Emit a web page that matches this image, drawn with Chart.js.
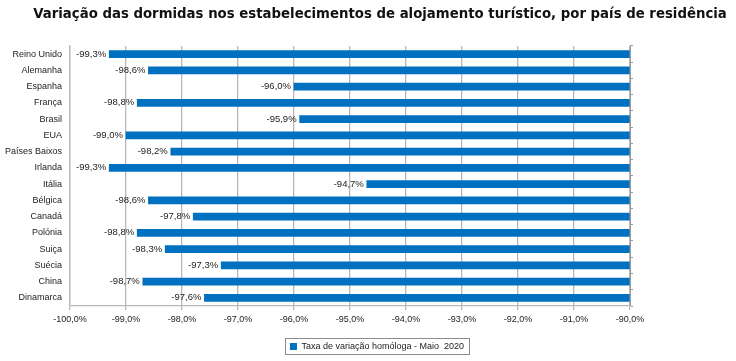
<!DOCTYPE html>
<html><head><meta charset="utf-8">
<script src="https://cdn.jsdelivr.net/npm/chart.js@4.4.0/dist/chart.umd.min.js"></script>
<style>html,body{margin:0;padding:0;background:#fff}</style>
</head><body>
<canvas id="c" width="736" height="361" style="width:736px;height:361px;display:block"></canvas>
<script>
const titleText = "Variação das dormidas nos estabelecimentos de alojamento turístico, por país de residência";
const seriesName = "Taxa de variação homóloga - Maio  2020";
const categories = ["Reino Unido","Alemanha","Espanha","França","Brasil","EUA","Países Baixos","Irlanda","Itália","Bélgica","Canadá","Polónia","Suiça","Suécia","China","Dinamarca"];
const values = [-99.3,-98.6,-96.0,-98.8,-95.9,-99.0,-98.2,-99.3,-94.7,-98.6,-97.8,-98.8,-98.3,-97.3,-98.7,-97.6];
const axisMin = -100;
const axisMax = -90;
const axisStep = 1;

const FONT = "'Liberation Sans', Arial, sans-serif";
const LEGEND_FONT_SIZE = 9;
const LEGEND_BOX = 7;
const fmt = v => v.toFixed(1).replace('.', ',') + '%';

const dataLabels = {
  id: 'dataLabels',
  afterDatasetsDraw(chart) {
    const ctx = chart.ctx;
    const meta = chart.getDatasetMeta(0);
    ctx.save();
    ctx.font = "9.5px " + FONT;
    ctx.fillStyle = '#222';
    ctx.textAlign = 'right';
    ctx.textBaseline = 'middle';
    meta.data.forEach((bar, i) => {
      ctx.fillText(fmt(values[i]), bar.x - 3, bar.y);
    });
    ctx.restore();
  }
};
const legendBox = {
  id: 'legendBox',
  afterLayout(chart) {
    const l = chart.legend;
    if (l) { l.left += 9; l.right += 9; }
    const t = chart.titleBlock;
    if (t) { t.left += 12; t.right += 12; }
  },
  afterDraw(chart) {
    const l = chart.legend;
    if (!l) return;
    const ctx = chart.ctx;
    ctx.save();
    ctx.font = LEGEND_FONT_SIZE + "px " + FONT;
    const tw = ctx.measureText(seriesName).width;
    const iw = LEGEND_BOX + LEGEND_FONT_SIZE / 2 + tw;
    const cx = (l.left + l.right) / 2;
    const cy = (l.top + l.bottom) / 2;
    const x0 = Math.round(cx - iw / 2 - 5) + 0.5;
    const y0 = Math.round(cy - 8) + 0.5;
    ctx.strokeStyle = '#8c8c8c';
    ctx.lineWidth = 1;
    ctx.strokeRect(x0, y0, Math.round(iw + 10), 16);
    ctx.restore();
  }
};

new Chart(document.getElementById('c'), {
  type: 'bar',
  data: {
    labels: categories,
    datasets: [{
      label: seriesName,
      data: values,
      base: axisMax,
      backgroundColor: '#0070c0',
      borderWidth: 0,
      barThickness: 7,
      yAxisID: 'y'
    }]
  },
  options: {
    indexAxis: 'y',
    responsive: false,
    animation: false,
    devicePixelRatio: 1,
    layout: { padding: { left: 0, right: 0, top: 0, bottom: 0 } },
    scales: {
      x: {
        min: axisMin, max: axisMax,
        ticks: { stepSize: axisStep, callback: v => fmt(v), font: { family: FONT, size: 9 }, color: '#222', padding: 4, maxRotation: 0 },
        grid: { color: '#b8b8b8', lineWidth: 1.3, tickLength: 4, tickColor: '#b8b8b8' },
        border: { display: true, color: '#b8b8b8', width: 1.3 },
        afterFit: s => { s.height = 26; }
      },
      y: {
        position: 'left',
        ticks: { font: { family: FONT, size: 9 }, color: '#222', padding: 8, autoSkip: false },
        grid: { display: false, drawTicks: false },
        border: { display: true, color: '#b8b8b8', width: 1.3 },
        afterFit: s => { s.width = 70; }
      },
      y2: {
        position: 'right',
        type: 'category',
        labels: categories,
        offset: true,
        ticks: { display: false },
        grid: { drawOnChartArea: false, offset: true, tickLength: 3, color: '#999' },
        border: { display: true, color: '#999', width: 1 },
        afterFit: s => { s.width = 106; }
      }
    },
    plugins: {
      title: {
        display: true, text: titleText, color: '#111',
        font: { family: "'DejaVu Sans', Verdana, sans-serif", size: 13.3, weight: 'bold' },
        padding: { top: 7, bottom: 23 }
      },
      legend: {
        position: 'bottom',
        labels: { font: { family: FONT, size: LEGEND_FONT_SIZE }, color: '#222', boxWidth: LEGEND_BOX, boxHeight: LEGEND_BOX, padding: 10 }
      },
      tooltip: { enabled: false }
    }
  },
  plugins: [dataLabels, legendBox]
});
</script>
</body></html>
